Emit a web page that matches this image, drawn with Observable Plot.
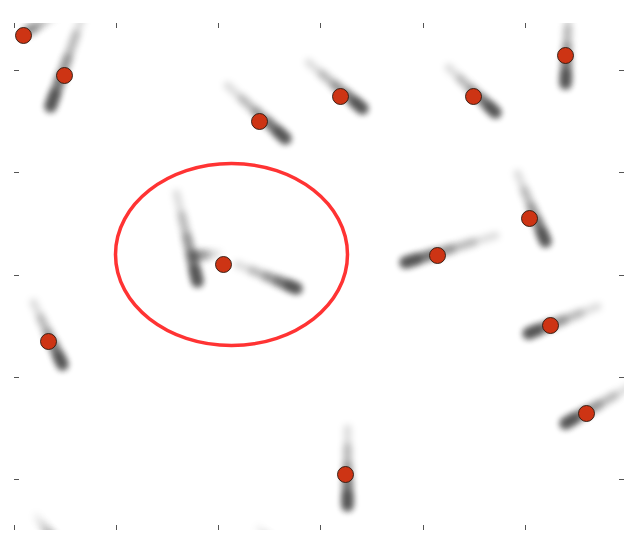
<!DOCTYPE html>
<html>
<head>
<meta charset="utf-8">
<script src="https://cdn.jsdelivr.net/npm/d3@7"></script>
<script src="https://cdn.jsdelivr.net/npm/@observablehq/plot@0.6"></script>
<style>
  body { margin: 0; background: #fff; }
  #chart svg { display: block; background: #fff; }
</style>
</head>
<body>
<div id="chart"></div>
<script>
// tick positions (image pixel units), no labels on the original
const xTicks = [14, 116, 218, 320, 423, 525]
const yTicks = [70, 172, 275, 377, 479]

// motion streaks: faint tail -> dark head, plus how strong each one is
const tailX = [55, 84, 227, 308, 448, 568, 517, 495, 597, 630, 33, 347, 176, 237, 218, 36, 258]
const tailY = [15, 10, 85, 62, 67, 10, 173, 235, 306, 386, 302, 428, 193, 264, 253, 516, 528]
const headX = [28, 50, 285, 362, 495, 565, 545, 405, 528, 565, 62, 347, 197, 296, 197, 52, 276]
const headY = [30, 106, 138, 108, 112, 83, 241, 262, 333, 423, 364, 505, 281, 288, 255, 538, 545]
const ink   = [0.5, 1, 1, 1, 1, 1, 1, 1, 1, 1, 1, 1, 1, 1, 0.5, 0.35, 0.3]

// detected positions
const dotX = [23, 64, 259, 340, 473, 565, 529, 437, 223, 550, 586, 48, 345]
const dotY = [35, 75, 121, 96, 96, 55, 218, 255, 264, 325, 413, 341, 474]

// highlighted region
const ringX = [231]
const ringY = [254]
const ringRX = [116]
const ringRY = [91]

const streaks = tailX.map((tx, i) => ({tx, ty: tailY[i], hx: headX[i], hy: headY[i], ink: ink[i]}))
const dots = dotX.map((x, i) => ({x, y: dotY[i]}))
const rings = ringX.map((x, i) => ({x, y: ringY[i], rx: ringRX[i], ry: ringRY[i]}))

// point part way from head back to tail
const along = (d, f) => [d.hx + (d.tx - d.hx) * f, d.hy + (d.ty - d.hy) * f]

const ellipse = (aspect) => ({
  draw(context, size) {
    const rx = Math.sqrt(size / Math.PI), ry = rx * aspect
    const kx = rx * 0.5523, ky = ry * 0.5523
    context.moveTo(rx, 0)
    context.bezierCurveTo(rx, ky, kx, ry, 0, ry)
    context.bezierCurveTo(-kx, ry, -rx, ky, -rx, 0)
    context.bezierCurveTo(-rx, -ky, -kx, -ry, 0, -ry)
    context.bezierCurveTo(kx, -ry, rx, -ky, rx, 0)
    context.closePath()
  }
})

const smear = (f, w, o) => Plot.link(streaks, {
  x1: d => along(d, f)[0], y1: d => along(d, f)[1],
  x2: "hx", y2: "hy",
  stroke: "#000", strokeWidth: w, strokeLinecap: "round",
  strokeOpacity: d => d.ink * o,
  clip: true
})

let chart = Plot.plot({
  width: 643,
  height: 547,
  marginLeft: 14,
  marginRight: 19,
  marginTop: 23,
  marginBottom: 17,
  x: { domain: [14, 624], axis: null },
  y: { domain: [23, 530], reverse: true, axis: null },
  opacity: { type: "identity" },
  marks: [
    smear(1, 8, 0.13),
    smear(0.75, 9, 0.16),
    smear(0.5, 10, 0.2),
    smear(0.3, 11, 0.24),
    smear(0.12, 12, 0.3),
    Plot.dot(rings, {
      x: "x", y: "y", r: ringRX[0],
      symbol: ellipse(ringRY[0] / ringRX[0]),
      fill: "none", stroke: "#ff3333", strokeWidth: 3.5
    }),
    Plot.dot(dots, {x: "x", y: "y", r: 8, fill: "#cd3414", stroke: "#2a1810", strokeWidth: 0.9}),
    Plot.tickX(xTicks, {x: d => d, insetTop: 502, stroke: "#555"}),
    Plot.tickX(xTicks, {x: d => d, insetBottom: 502, stroke: "#555"}),
    Plot.tickY(yTicks, {y: d => d, insetRight: 605, stroke: "#555"}),
    Plot.tickY(yTicks, {y: d => d, insetLeft: 605, stroke: "#555"})
  ]
})

// soften the streaks like a motion-blurred photo
const svg = d3.select(chart)
svg.insert("defs", ":first-child")
  .append("filter")
  .attr("id", "smear")
  .attr("filterUnits", "userSpaceOnUse")
  .attr("x", 0).attr("y", 0).attr("width", 643).attr("height", 547)
  .append("feGaussianBlur")
  .attr("stdDeviation", 3.4)
svg.selectAll('g[aria-label="link"]').attr("filter", "url(#smear)")

d3.select('#chart').append(() => chart)
</script>
</body>
</html>
